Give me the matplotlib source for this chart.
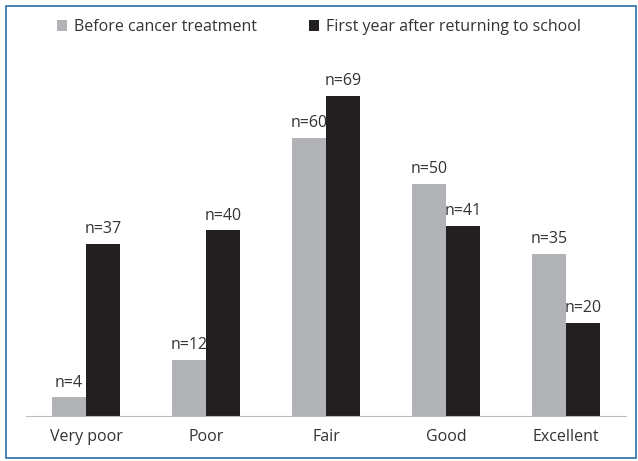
import numpy as np
import matplotlib.pyplot as plt
from matplotlib.patches import Rectangle

categories = ['Very poor', 'Poor', 'Fair', 'Good', 'Excellent']
before = [4, 12, 60, 50, 35]
after = [37, 40, 69, 41, 20]
series_names = ['Before cancer treatment', 'First year after returning to school']

gray = '#b2b3b6'
black = '#231f20'
txt = '#333333'

plt.rcParams['font.family'] = ['Open Sans', 'DejaVu Sans']
fs = 11.5

fig = plt.figure(figsize=(6.38, 4.61), dpi=100)
ax = fig.add_axes([26 / 638, 45 / 461, 600 / 638, 371 / 461])

x = np.arange(len(categories))
w = 34 / 120
b1 = ax.bar(x - w / 2, before, w, color=gray, label=series_names[0])
b2 = ax.bar(x + w / 2, after, w, color=black, label=series_names[1])

for bars in (b1, b2):
    for r in bars:
        ax.annotate(f'n={int(r.get_height())}', (r.get_x() + r.get_width() / 2, r.get_height()),
                    xytext=(0, 5), textcoords='offset points', ha='center', va='bottom',
                    fontsize=fs, color=txt)

ax.set_xlim(-0.5, len(categories) - 0.5)
ax.set_ylim(0, 80)
ax.set_yticks([])
ax.set_xticks(x)
ax.set_xticklabels(categories, fontsize=fs, color=txt)
ax.tick_params(axis='x', length=0, pad=9)
for s in ['top', 'right', 'left']:
    ax.spines[s].set_visible(False)
ax.spines['bottom'].set_color('#bfbfbf')

fig.legend(handles=[b1, b2], loc='center', bbox_to_anchor=(0.5, 1 - 27 / 461), ncol=2,
           frameon=False, fontsize=fs, handlelength=0.65, handleheight=0.65,
           handletextpad=0.45, columnspacing=3.2, labelcolor=txt)

fig.patches.append(Rectangle((6 / 638, 3 / 461), 630 / 638, 452 / 461, transform=fig.transFigure,
                             fill=False, edgecolor='#2e6ea6', linewidth=1.2))

fig.savefig('out.png', dpi=100)
